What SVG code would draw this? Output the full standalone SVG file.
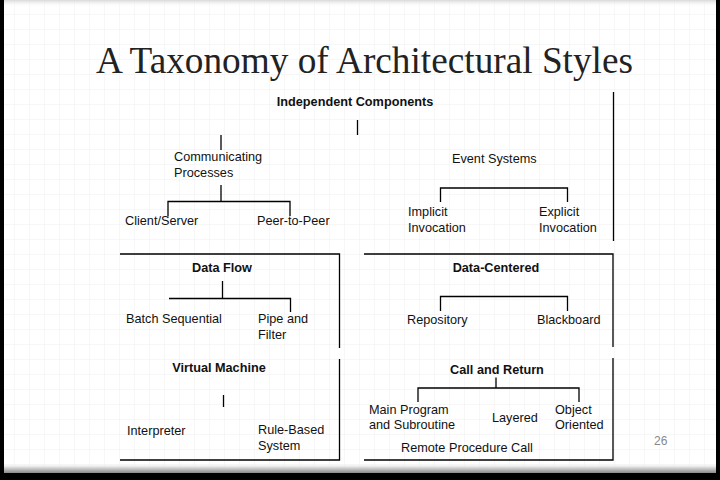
<svg xmlns="http://www.w3.org/2000/svg" width="720" height="480" viewBox="0 0 720 480">
  <defs>
    <pattern id="grid" width="15" height="15" patternUnits="userSpaceOnUse">
      <path d="M15 0 V15 M0 15 H15" fill="none" stroke="#efefef" stroke-width="1"/>
    </pattern>
    <linearGradient id="bottomShade" x1="0" y1="0" x2="0" y2="1">
      <stop offset="0" stop-color="#ffffff" stop-opacity="0"/>
      <stop offset="0.5" stop-color="#d0d0d0"/>
      <stop offset="1" stop-color="#8a8a8a"/>
    </linearGradient>
    <linearGradient id="topShade" x1="0" y1="0" x2="0" y2="1">
      <stop offset="0" stop-color="#d8d8d8"/>
      <stop offset="1" stop-color="#ffffff" stop-opacity="0"/>
    </linearGradient>
  </defs>
  <style>
    .ln { stroke: #000; stroke-width: 1.3; fill: none; }
    .t { font-family: "Liberation Sans", Arial, sans-serif; font-size: 12.7px; fill: #111; }
    .b { font-weight: bold; text-anchor: middle; }
    .title { font-family: "Liberation Serif", "Times New Roman", serif; font-size: 37px; fill: #222; }
    .pg { font-family: "Liberation Sans", Arial, sans-serif; font-size: 12px; fill: #888; }
  </style>

  <!-- slide frame -->
  <rect x="0" y="0" width="720" height="480" fill="#000"/>
  <rect x="4" y="0" width="712" height="473" fill="#fff"/>
  <rect x="4" y="0" width="712" height="473" fill="url(#grid)"/>
  <rect x="4" y="0" width="712" height="7" fill="url(#topShade)"/>
  <rect x="4" y="463" width="712" height="10" fill="url(#bottomShade)"/>

  <text class="title" x="96" y="73" textLength="537" lengthAdjust="spacingAndGlyphs">A Taxonomy of Architectural Styles</text>

  <g id="connectors">
    <!-- top section -->
    <path class="ln" d="M357.5 120 V135"/>
    <path class="ln" d="M221 135 V150"/>
    <path class="ln" d="M221 185 V201.5"/>
    <path class="ln" d="M168 216.5 V201.5 H290 V216"/>
    <path class="ln" d="M440.5 202 V188 H567.5 V202"/>
    <path class="ln" d="M613.5 92 V241"/>
    <!-- data flow -->
    <path class="ln" d="M222.5 281 V298.5"/>
    <path class="ln" d="M169 298.5 H290.5 V312"/>
    <!-- data-centered -->
    <path class="ln" d="M440.5 311 V296.5 H567.5 V311"/>
    <!-- virtual machine -->
    <path class="ln" d="M223.5 395 V407"/>
    <!-- call and return -->
    <path class="ln" d="M496 377.5 V388"/>
    <path class="ln" d="M418 402 V388 H579 V402"/>
    <!-- box frames -->
    <path class="ln" d="M120 254 H339.5 V348"/>
    <path class="ln" d="M339.5 359 V460 H120"/>
    <path class="ln" d="M364 254 H613 V347"/>
    <path class="ln" d="M613 358 V460 H364"/>
  </g>

  <g id="independent-components"><text class="t b" x="355" y="106">Independent Components</text></g>
  <g id="communicating-processes"><text class="t" x="174" y="161">Communicating</text><text class="t" x="174" y="177">Processes</text></g>
  <g id="client-server"><text class="t" x="125" y="225">Client/Server</text></g>
  <g id="peer-to-peer"><text class="t" x="257" y="225">Peer-to-Peer</text></g>
  <g id="event-systems"><text class="t" x="452" y="163">Event Systems</text></g>
  <g id="implicit-invocation"><text class="t" x="408" y="216">Implicit</text><text class="t" x="408" y="232">Invocation</text></g>
  <g id="explicit-invocation"><text class="t" x="539" y="216">Explicit</text><text class="t" x="539" y="232">Invocation</text></g>

  <g id="data-flow"><text class="t b" x="222" y="272">Data Flow</text></g>
  <g id="batch-sequential"><text class="t" x="126" y="323">Batch Sequential</text></g>
  <g id="pipe-and-filter"><text class="t" x="258" y="323">Pipe and</text><text class="t" x="258" y="339">Filter</text></g>

  <g id="data-centered"><text class="t b" x="496" y="272">Data-Centered</text></g>
  <g id="repository"><text class="t" x="407" y="324">Repository</text></g>
  <g id="blackboard"><text class="t" x="537" y="324">Blackboard</text></g>

  <g id="virtual-machine"><text class="t b" x="219" y="372">Virtual Machine</text></g>
  <g id="interpreter"><text class="t" x="127" y="435">Interpreter</text></g>
  <g id="rule-based-system"><text class="t" x="258" y="434">Rule-Based</text><text class="t" x="258" y="450">System</text></g>

  <g id="call-and-return"><text class="t b" x="497" y="374">Call and Return</text></g>
  <g id="main-program"><text class="t" x="369" y="414">Main Program</text><text class="t" x="369" y="429">and Subroutine</text></g>
  <g id="layered"><text class="t" x="492" y="422">Layered</text></g>
  <g id="object-oriented"><text class="t" x="555" y="414">Object</text><text class="t" x="555" y="429">Oriented</text></g>
  <g id="remote-procedure-call"><text class="t" x="401" y="452">Remote Procedure Call</text></g>

  <text class="pg" x="654" y="445">26</text>
</svg>
